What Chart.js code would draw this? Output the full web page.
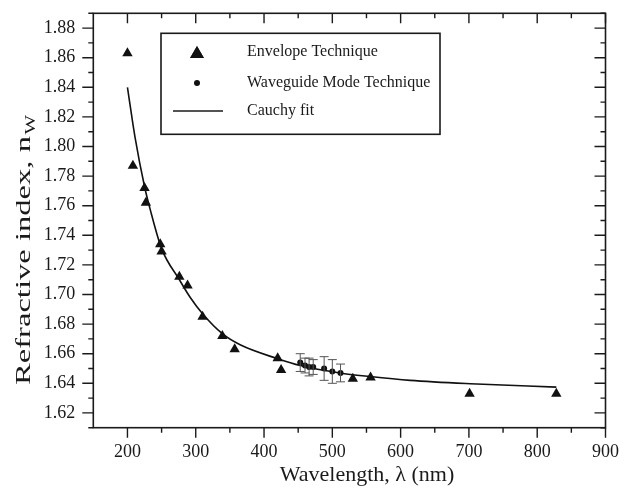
<!DOCTYPE html>
<html><head><meta charset="utf-8">
<script src="https://cdn.jsdelivr.net/npm/chart.js@4.4.1/dist/chart.umd.min.js"></script>
<style>html,body{margin:0;padding:0;background:#fff;}#wrap{width:624px;height:491px;}</style>
</head><body><div id="wrap"><canvas id="c" width="624" height="491"></canvas></div>
<script>
const envelopeWavelength = [200, 208, 225, 227, 248, 250, 276, 288, 310, 339, 357, 420, 425, 530, 556, 701, 828];
const envelopeIndex = [1.863, 1.787, 1.772, 1.762, 1.734, 1.729, 1.712, 1.706, 1.685, 1.672, 1.663, 1.657, 1.649, 1.643, 1.644, 1.633, 1.633];
const waveguideWavelength = [453, 460, 466, 472, 488, 500, 512];
const waveguideIndex = [1.654, 1.652, 1.651, 1.651, 1.650, 1.648, 1.647];
const waveguideError = [0.006, 0.005, 0.006, 0.005, 0.008, 0.008, 0.006];
const cauchyWavelength = [200, 211, 225, 233, 250, 276, 292, 310, 339, 365, 420, 453, 511, 555, 614, 702, 828];
const cauchyIndex = [1.840, 1.8065, 1.773, 1.758, 1.731, 1.710, 1.698, 1.687, 1.6735, 1.666, 1.6566, 1.652, 1.647, 1.6446, 1.642, 1.6397, 1.6374];
const xTickLabels = [200, 300, 400, 500, 600, 700, 800, 900];
const xMinorTicks = [250, 350, 450, 550, 650, 750, 850];
const yTickLabels = [1.62, 1.64, 1.66, 1.68, 1.70, 1.72, 1.74, 1.76, 1.78, 1.80, 1.82, 1.84, 1.86, 1.88];
const yMinorTicks = [1.61, 1.63, 1.65, 1.67, 1.69, 1.71, 1.73, 1.75, 1.77, 1.79, 1.81, 1.83, 1.85, 1.87, 1.89];
const legendLabels = ['Envelope Technique', 'Waveguide Mode Technique', 'Cauchy fit'];
const xTitle = 'Wavelength, \u03bb (nm)';
const yTitleMain = 'Refractive index, n';
const yTitleSub = 'W';

const SERIF = '"Liberation Serif", "Times New Roman", serif';
const INK = '#1a1a1a';

const pts = (xs, ys) => xs.map((x, i) => ({x: x, y: ys[i]}));

const framePlugin = {
  id: 'frame',
  afterDatasetsDraw(chart) {
    const ctx = chart.ctx, a = chart.chartArea;
    const xs = chart.scales.x, ys = chart.scales.y;
    ctx.save();
    // error bars
    ctx.strokeStyle = '#555';
    ctx.lineWidth = 1;
    waveguideWavelength.forEach((w, i) => {
      const px = xs.getPixelForValue(w);
      const p1 = ys.getPixelForValue(waveguideIndex[i] + waveguideError[i]);
      const p2 = ys.getPixelForValue(waveguideIndex[i] - waveguideError[i]);
      ctx.beginPath();
      ctx.moveTo(px, p1); ctx.lineTo(px, p2);
      ctx.moveTo(px - 4.5, p1); ctx.lineTo(px + 4.5, p1);
      ctx.moveTo(px - 4.5, p2); ctx.lineTo(px + 4.5, p2);
      ctx.stroke();
    });
    // frame
    ctx.strokeStyle = INK;
    ctx.lineWidth = 1.6;
    ctx.strokeRect(a.left, a.top, a.right - a.left, a.bottom - a.top);
    ctx.lineWidth = 1.4;
    ctx.beginPath();
    xTickLabels.forEach(v => {
      const p = xs.getPixelForValue(v);
      ctx.moveTo(p, a.bottom); ctx.lineTo(p, a.bottom + 10);
      ctx.moveTo(p, a.top); ctx.lineTo(p, a.top + 10);
    });
    xMinorTicks.forEach(v => {
      const p = xs.getPixelForValue(v);
      ctx.moveTo(p, a.bottom); ctx.lineTo(p, a.bottom + 5);
      ctx.moveTo(p, a.top); ctx.lineTo(p, a.top + 5);
    });
    yTickLabels.forEach(v => {
      const p = ys.getPixelForValue(v);
      ctx.moveTo(a.left, p); ctx.lineTo(a.left - 11, p);
      ctx.moveTo(a.right, p); ctx.lineTo(a.right - 11, p);
    });
    yMinorTicks.forEach(v => {
      const p = ys.getPixelForValue(v);
      ctx.moveTo(a.left, p); ctx.lineTo(a.left - 5, p);
      ctx.moveTo(a.right, p); ctx.lineTo(a.right - 5, p);
    });
    ctx.stroke();

    // axis titles
    ctx.fillStyle = INK;
    ctx.textBaseline = 'alphabetic';
    ctx.textAlign = 'center';
    ctx.font = '22px ' + SERIF;
    ctx.fillText(xTitle, 367, 481);

    ctx.save();
    ctx.translate(30, 250);
    ctx.rotate(-Math.PI / 2);
    ctx.font = '22px ' + SERIF;
    const w1 = ctx.measureText(yTitleMain).width;
    ctx.font = '14px ' + SERIF;
    const w2 = ctx.measureText(yTitleSub).width;
    const stretch = 270 / (w1 + w2 + 1);
    ctx.scale(stretch, 1);
    const start = -(w1 + w2 + 1) / 2;
    ctx.textAlign = 'left';
    ctx.font = '22px ' + SERIF;
    ctx.fillText(yTitleMain, start, 0);
    ctx.font = '14px ' + SERIF;
    ctx.fillText(yTitleSub, start + w1 + 1, 5);
    ctx.restore();

    // legend
    const lx = 161, ly = 33.3, lw = 279, lh = 101;
    ctx.lineWidth = 1.6;
    ctx.strokeStyle = INK;
    ctx.strokeRect(lx, ly, lw, lh);
    Chart.helpers.drawPoint(ctx, {pointStyle: 'triangle', radius: 8, borderWidth: 0}, 197, 54);
    ctx.fillStyle = '#111';
    ctx.fill();
    ctx.beginPath();
    ctx.arc(197, 83, 3, 0, Math.PI * 2);
    ctx.fill();
    ctx.beginPath();
    ctx.lineWidth = 1.5;
    ctx.moveTo(173, 111); ctx.lineTo(223, 111);
    ctx.stroke();
    ctx.fillStyle = INK;
    ctx.font = '16px ' + SERIF;
    ctx.textAlign = 'left';
    ctx.textBaseline = 'middle';
    const rows = [52, 83, 111];
    legendLabels.forEach((t, i) => ctx.fillText(t, 247, rows[i]));
    ctx.restore();
  }
};

new Chart(document.getElementById('c'), {
  type: 'scatter',
  data: {
    datasets: [
      {
        label: legendLabels[0],
        data: pts(envelopeWavelength, envelopeIndex),
        pointStyle: 'triangle',
        pointRadius: 6,
        pointBackgroundColor: '#111',
        pointBorderWidth: 0,
        showLine: false
      },
      {
        label: legendLabels[1],
        data: pts(waveguideWavelength, waveguideIndex),
        pointStyle: 'circle',
        pointRadius: 3,
        pointBackgroundColor: '#111',
        pointBorderWidth: 0,
        showLine: false
      },
      {
        label: legendLabels[2],
        data: pts(cauchyWavelength, cauchyIndex),
        showLine: true,
        pointRadius: 0,
        borderColor: '#111',
        borderWidth: 1.6,
        cubicInterpolationMode: 'monotone',
        fill: false
      }
    ]
  },
  options: {
    responsive: false,
    devicePixelRatio: 1,
    animation: false,
    layout: {padding: {left: 0, right: 18.5, top: 13.3, bottom: 0}},
    plugins: {legend: {display: false}, tooltip: {enabled: false}},
    scales: {
      x: {
        type: 'linear', min: 150, max: 900, position: 'bottom',
        grid: {display: false, drawTicks: false}, border: {display: false},
        afterBuildTicks: s => { s.ticks = xTickLabels.map(v => ({value: v})); },
        afterFit: s => { s.height = 491 - 427.7; s.paddingLeft = 0; s.paddingRight = 0; s.paddingTop = 0; s.paddingBottom = 0; },
        ticks: {autoSkip: false, maxRotation: 0, padding: 14, color: INK,
          font: {family: SERIF, size: 18}, callback: v => String(v)}
      },
      y: {
        type: 'linear', min: 1.61, max: 1.89,
        grid: {display: false, drawTicks: false}, border: {display: false},
        afterBuildTicks: s => { s.ticks = yTickLabels.map(v => ({value: v})); },
        afterFit: s => { s.width = 93.3; s.paddingLeft = 0; s.paddingRight = 0; s.paddingTop = 0; s.paddingBottom = 0; },
        ticks: {autoSkip: false, padding: 18, color: INK,
          font: {family: SERIF, size: 18}, callback: v => Number(v).toFixed(2)}
      }
    }
  },
  plugins: [framePlugin]
});
</script></body></html>
